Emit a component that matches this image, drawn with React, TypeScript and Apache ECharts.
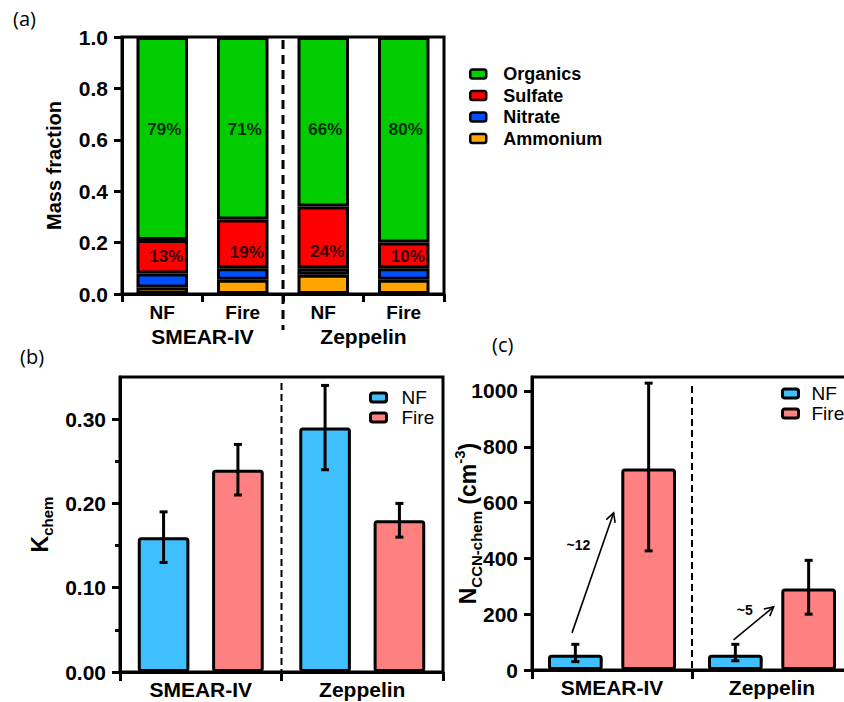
import React, { useEffect, useRef } from "react";
import * as echarts from "echarts";

// ---------- data ----------
const catsA = ["NF", "Fire", "NF", "Fire"];
const groupsA = ["SMEAR-IV", "Zeppelin"];
const ammonium = [0.025, 0.055, 0.075, 0.055];
const nitrate = [0.055, 0.045, 0.025, 0.045];
const sulfate = [0.13, 0.19, 0.24, 0.1];
const organics = [0.79, 0.71, 0.66, 0.8];
const organicsPct = ["79%", "71%", "66%", "80%"];
const sulfatePct = ["13%", "19%", "24%", "10%"];
const organicsLabelY = [0.64, 0.64, 0.64, 0.64];
const sulfateLabelY = [0.145, 0.16, 0.165, 0.145];
const ticksA = [0, 0.2, 0.4, 0.6, 0.8, 1.0];

const sites = ["SMEAR-IV", "Zeppelin"];
const kNF = [0.16, 0.29];
const kNFErr = [[0.13, 0.19], [0.24, 0.34]];
const kFire = [0.24, 0.18];
const kFireErr = [[0.21, 0.27], [0.16, 0.2]];
const ticksB = [0, 0.1, 0.2, 0.3];
const minorTicksB = [0.05, 0.15, 0.25];

const nNF = [55, 55];
const nNFErr = [[30, 92], [33, 92]];
const nFire = [722, 292];
const nFireErr = [[427, 1028], [200, 393]];
const ticksC = [0, 200, 400, 600, 800, 1000];
const arrowFromY = [133, 108];
const arrowToY = [563, 226];
const arrowFromDX = [-0.25, -0.24];
const arrowToDX = [0.01, 0.01];
const arrowText = ["~12", "~5"];
const arrowTextY = [448, 215];
const arrowTextDX = [-0.21, -0.17];

const FONT = "'Liberation Sans', Arial, Helvetica, sans-serif";
const BLACK = "#000";

const catGapB = 0.22, barGapB = 0.44;
const catGapC = 0.2, barGapC = 0.34;

function errRender(catGap: number, barGap: number) {
  return (params: any, api: any) => {
    const i = api.value(0), lo = api.value(1), hi = api.value(2), s = api.value(3);
    const band = api.size([1, 0])[0];
    const bw = (band * (1 - catGap)) / (2 + barGap);
    const off = (s * bw * (1 + barGap)) / 2;
    const pLo = api.coord([i, lo]);
    const pHi = api.coord([i, hi]);
    const x = pLo[0] + off;
    const cap = 4;
    const st = { stroke: BLACK, lineWidth: 3 };
    return {
      type: "group",
      children: [
        { type: "line", shape: { x1: x, y1: pLo[1], x2: x, y2: pHi[1] }, style: st },
        { type: "line", shape: { x1: x - cap, y1: pLo[1], x2: x + cap, y2: pLo[1] }, style: st },
        { type: "line", shape: { x1: x - cap, y1: pHi[1], x2: x + cap, y2: pHi[1] }, style: st },
      ],
    };
  };
}

function arrowRender(params: any, api: any) {
  const k = params.dataIndex;
  const i = api.value(0);
  const band = api.size([1, 0])[0];
  const p0 = api.coord([i, api.value(1)]);
  const p1 = api.coord([i, api.value(2)]);
  const x0 = p0[0] + arrowFromDX[k] * band, y0 = p0[1];
  const x1 = p1[0] + arrowToDX[k] * band, y1 = p1[1];
  const dx = x1 - x0, dy = y1 - y0;
  const len = Math.sqrt(dx * dx + dy * dy);
  const ux = dx / len, uy = dy / len;
  const L = 10, th = (28 * Math.PI) / 180;
  const c = Math.cos(th), s = Math.sin(th);
  const h1 = [x1 - L * (ux * c - uy * s), y1 - L * (uy * c + ux * s)];
  const h2 = [x1 - L * (ux * c + uy * s), y1 - L * (uy * c - ux * s)];
  const pt = api.coord([i, arrowTextY[k]]);
  const st = { stroke: BLACK, lineWidth: 1.6, fill: "none" };
  return {
    type: "group",
    children: [
      { type: "line", shape: { x1: x0, y1: y0, x2: x1, y2: y1 }, style: st },
      { type: "polyline", shape: { points: [h1, [x1, y1], h2] }, style: st },
      {
        type: "text",
        x: pt[0] + arrowTextDX[k] * band,
        y: pt[1],
        style: {
          text: arrowText[k],
          fill: BLACK,
          font: `bold 14px ${FONT}`,
          align: "center",
          verticalAlign: "middle",
        },
      },
    ],
  };
}

const axisLineStyle = { show: true, lineStyle: { color: BLACK, width: 3 } };
const tickStyle = { show: true, length: 8, lineStyle: { color: BLACK, width: 3 } };
const tickLabel = (size: number, margin: number, lh?: number) => ({
  color: BLACK,
  fontWeight: "bold",
  fontSize: size,
  fontFamily: FONT,
  margin,
  ...(lh ? { lineHeight: lh } : {}),
});

const legendText = (bold: boolean, size: number, pad: number) => ({
  color: BLACK,
  fontFamily: FONT,
  fontWeight: bold ? "bold" : "normal",
  fontSize: size,
  lineHeight: size,
  padding: [0, 0, 0, pad],
});

const option: any = {
  animation: false,
  backgroundColor: "#fff",
  grid: [
    { left: 122, top: 37, width: 322, height: 257, show: true, borderColor: BLACK, borderWidth: 3, outerBoundsMode: "none" },
    { left: 120, top: 377, width: 323, height: 295, show: true, borderColor: BLACK, borderWidth: 3, outerBoundsMode: "none" },
    { left: 532, top: 377, width: 320, height: 293, show: true, borderColor: BLACK, borderWidth: 3, outerBoundsMode: "none" },
  ],
  xAxis: [
    { type: "category", gridIndex: 0, data: catsA, axisLine: axisLineStyle, axisTick: tickStyle, axisLabel: tickLabel(19, 9), splitLine: { show: false } },
    { type: "category", gridIndex: 0, data: groupsA, position: "bottom", axisLine: { show: false }, axisTick: { show: false }, axisLabel: tickLabel(21, 32), splitLine: { show: false } },
    { type: "category", gridIndex: 1, data: sites, axisLine: axisLineStyle, axisTick: { ...tickStyle, length: 9 }, axisLabel: tickLabel(21, 7, 21), splitLine: { show: false } },
    { type: "category", gridIndex: 2, data: sites, axisLine: axisLineStyle, axisTick: { ...tickStyle, length: 9 }, axisLabel: tickLabel(21, 7, 21), splitLine: { show: false } },
  ],
  yAxis: [
    {
      type: "value", gridIndex: 0, min: 0, max: 1, interval: 0.2,
      axisLine: axisLineStyle, axisTick: { ...tickStyle, customValues: ticksA },
      axisLabel: { ...tickLabel(21, 14), customValues: ticksA, formatter: (v: number) => v.toFixed(1) },
      splitLine: { show: false },
      name: "Mass fraction", nameLocation: "middle", nameGap: 58, nameMoveOverlap: false,
      nameTextStyle: { color: BLACK, fontWeight: "bold", fontSize: 20, fontFamily: FONT },
    },
    {
      type: "value", gridIndex: 1, min: 0, max: 0.35, interval: 0.1,
      axisLine: axisLineStyle, axisTick: { ...tickStyle, customValues: ticksB },
      axisLabel: { ...tickLabel(21, 14), customValues: ticksB, formatter: (v: number) => v.toFixed(2) },
      splitLine: { show: false },
      name: "{k|K}{s|chem}", nameLocation: "middle", nameGap: 65, nameMoveOverlap: false,
      nameTextStyle: {
        color: BLACK, fontFamily: FONT,
        rich: {
          k: { fontSize: 23, fontWeight: "bold", fontFamily: FONT, color: BLACK, lineHeight: 30, verticalAlign: "middle" },
          s: { fontSize: 15, fontWeight: "bold", fontFamily: FONT, color: BLACK, lineHeight: 14, verticalAlign: "bottom" },
        },
      },
    },
    {
      type: "value", gridIndex: 2, min: 0, max: 1050, interval: 200,
      axisLine: axisLineStyle, axisTick: { ...tickStyle, customValues: ticksC },
      axisLabel: { ...tickLabel(21, 14), customValues: ticksC, formatter: (v: number) => String(v) },
      splitLine: { show: false },
      name: "{n|N}{s|CCN-chem}{n| (cm}{p|-3}{n|)}", nameLocation: "middle", nameGap: 48, nameMoveOverlap: false,
      nameTextStyle: {
        color: BLACK, fontFamily: FONT,
        rich: {
          n: { fontSize: 23, fontWeight: "bold", fontFamily: FONT, color: BLACK, lineHeight: 32, verticalAlign: "middle" },
          s: { fontSize: 15, fontWeight: "bold", fontFamily: FONT, color: BLACK, lineHeight: 14, verticalAlign: "bottom" },
          p: { fontSize: 15, fontWeight: "bold", fontFamily: FONT, color: BLACK, lineHeight: 14, verticalAlign: "top" },
        },
      },
    },
    {
      type: "value", gridIndex: 1, min: 0, max: 0.35, position: "left",
      axisLine: { show: false }, axisLabel: { show: false }, splitLine: { show: false },
      axisTick: { show: true, length: 5, lineStyle: { color: BLACK, width: 3 }, customValues: minorTicksB },
    },
  ],
  legend: [
    {
      data: ["Organics", "Sulfate", "Nitrate", "Ammonium"], orient: "vertical", left: 464, top: 60,
      itemWidth: 16, itemHeight: 9, itemGap: 3.5, icon: "roundRect",
      itemStyle: { borderColor: BLACK, borderWidth: 2.5 },
      textStyle: legendText(true, 18, 12),
    },
    {
      data: ["NF", "Fire"], orient: "vertical", left: 364, top: 383,
      itemWidth: 16, itemHeight: 9, itemGap: 1, icon: "roundRect",
      itemStyle: { borderColor: BLACK, borderWidth: 3 },
      textStyle: legendText(false, 19, 10),
    },
    {
      data: ["NF", "Fire"], orient: "vertical", left: 776, top: 379,
      itemWidth: 16, itemHeight: 9, itemGap: 1, icon: "roundRect",
      itemStyle: { borderColor: BLACK, borderWidth: 3 },
      textStyle: legendText(false, 19, 8),
    },
  ],
  series: [
    { type: "bar", name: "Ammonium", stack: "a", xAxisIndex: 0, yAxisIndex: 0, data: ammonium, barCategoryGap: "36%", itemStyle: { color: "#FFA500", borderColor: BLACK, borderWidth: 3 } },
    { type: "bar", name: "Nitrate", stack: "a", xAxisIndex: 0, yAxisIndex: 0, data: nitrate, barCategoryGap: "36%", itemStyle: { color: "#0050FF", borderColor: BLACK, borderWidth: 3 } },
    { type: "bar", name: "Sulfate", stack: "a", xAxisIndex: 0, yAxisIndex: 0, data: sulfate, barCategoryGap: "36%", itemStyle: { color: "#FF0000", borderColor: BLACK, borderWidth: 3 } },
    { type: "bar", name: "Organics", stack: "a", xAxisIndex: 0, yAxisIndex: 0, data: organics, barCategoryGap: "36%", itemStyle: { color: "#00CC00", borderColor: BLACK, borderWidth: 3 } },
    {
      type: "scatter", name: "orgLabels", xAxisIndex: 0, yAxisIndex: 0, symbolSize: 1, silent: true, z: 10,
      itemStyle: { color: "rgba(0,0,0,0)" },
      data: organicsLabelY.map((y, i) => [i, y]),
      label: { show: true, position: "inside", offset: [2, 0], formatter: (p: any) => organicsPct[p.dataIndex], color: BLACK, fontWeight: "bold", fontSize: 17, fontFamily: FONT },
    },
    {
      type: "scatter", name: "sulLabels", xAxisIndex: 0, yAxisIndex: 0, symbolSize: 1, silent: true, z: 10,
      itemStyle: { color: "rgba(0,0,0,0)" },
      data: sulfateLabelY.map((y, i) => [i, y]),
      label: { show: true, position: "inside", offset: [4, 0], formatter: (p: any) => sulfatePct[p.dataIndex], color: BLACK, fontWeight: "bold", fontSize: 17, fontFamily: FONT },
    },
    { type: "bar", name: "NF", xAxisIndex: 2, yAxisIndex: 1, data: kNF, barCategoryGap: `${catGapB * 100}%`, barGap: `${barGapB * 100}%`, itemStyle: { color: "#40BFFF", borderColor: BLACK, borderWidth: 3, borderRadius: 2 } },
    { type: "bar", name: "Fire", xAxisIndex: 2, yAxisIndex: 1, data: kFire, barCategoryGap: `${catGapB * 100}%`, barGap: `${barGapB * 100}%`, itemStyle: { color: "#FF8080", borderColor: BLACK, borderWidth: 3, borderRadius: 2 } },
    {
      type: "custom", name: "errB", xAxisIndex: 2, yAxisIndex: 1, z: 5, silent: true,
      renderItem: errRender(catGapB, barGapB),
      data: [...kNFErr.map((e, i) => [i, e[0], e[1], -1]), ...kFireErr.map((e, i) => [i, e[0], e[1], 1])],
    },
    { type: "bar", name: "NF", xAxisIndex: 3, yAxisIndex: 2, data: nNF, barCategoryGap: `${catGapC * 100}%`, barGap: `${barGapC * 100}%`, itemStyle: { color: "#40BFFF", borderColor: BLACK, borderWidth: 3, borderRadius: 2 } },
    { type: "bar", name: "Fire", xAxisIndex: 3, yAxisIndex: 2, data: nFire, barCategoryGap: `${catGapC * 100}%`, barGap: `${barGapC * 100}%`, itemStyle: { color: "#FF8080", borderColor: BLACK, borderWidth: 3, borderRadius: 2 } },
    {
      type: "custom", name: "errC", xAxisIndex: 3, yAxisIndex: 2, z: 5, silent: true,
      renderItem: errRender(catGapC, barGapC),
      data: [...nNFErr.map((e, i) => [i, e[0], e[1], -1]), ...nFireErr.map((e, i) => [i, e[0], e[1], 1])],
    },
    {
      type: "custom", name: "arrows", xAxisIndex: 3, yAxisIndex: 2, z: 6, silent: true,
      renderItem: arrowRender,
      data: arrowFromY.map((y, i) => [i, y, arrowToY[i]]),
    },
  ],
};

export default function App() {
  const ref = useRef<HTMLDivElement>(null);
  useEffect(() => {
    if (!ref.current) return;
    const chart = echarts.init(ref.current, null, { renderer: "svg" });
    chart.setOption(option);
    const px = (finder: any, v: any) => chart.convertToPixel(finder, v) as unknown as number;
    const xa = (px({ xAxisIndex: 0 }, 1) + px({ xAxisIndex: 0 }, 2)) / 2;
    const yaTop = px({ yAxisIndex: 0 }, 1);
    const yaBot = px({ yAxisIndex: 0 }, 0);
    const xb = (px({ xAxisIndex: 2 }, 0) + px({ xAxisIndex: 2 }, 1)) / 2;
    const ybTop = px({ yAxisIndex: 1 }, 0.35);
    const ybBot = px({ yAxisIndex: 1 }, 0);
    const xc = (px({ xAxisIndex: 3 }, 0) + px({ xAxisIndex: 3 }, 1)) / 2;
    const ycTop = px({ yAxisIndex: 2 }, 1050);
    const ycBot = px({ yAxisIndex: 2 }, 0);
    const letter = (t: string, x: number, y: number) => ({
      type: "text", x, y,
      style: { text: t, fill: BLACK, font: "20px 'Open Sans', sans-serif", verticalAlign: "top" },
    });
    chart.setOption({
      graphic: [
        letter("(a)", 13, 8),
        letter("(b)", 20, 346),
        letter("(c)", 492, 334),
        { type: "line", shape: { x1: xa, y1: yaTop + 3, x2: xa, y2: yaBot + 36 }, style: { stroke: BLACK, lineWidth: 3, lineDash: [9, 6] }, z: 20 },
        { type: "line", shape: { x1: xb, y1: ybTop + 6, x2: xb, y2: ybBot }, style: { stroke: BLACK, lineWidth: 2, lineDash: [7, 4] }, z: 20 },
        { type: "line", shape: { x1: xc, y1: ycTop + 9, x2: xc, y2: ycBot }, style: { stroke: BLACK, lineWidth: 2, lineDash: [7, 4] }, z: 20 },
      ],
    });
    return () => chart.dispose();
  }, []);
  return (
    <div
      ref={ref}
      style={{ position: "absolute", left: 0, top: 0, width: 844, height: 702, background: "#fff" }}
    />
  );
}
